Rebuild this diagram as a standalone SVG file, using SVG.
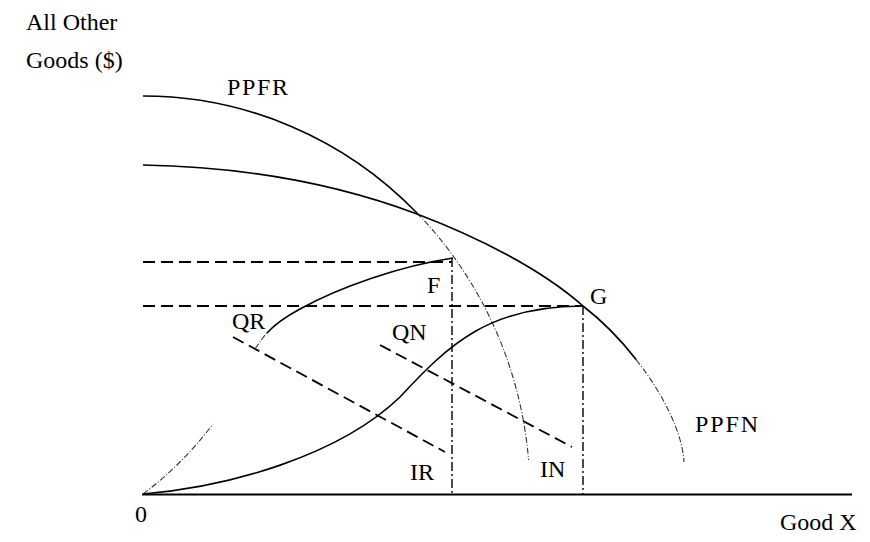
<svg xmlns="http://www.w3.org/2000/svg" width="870" height="542" viewBox="0 0 870 542">
<style>
  text { font-family: "Liberation Serif", "Times New Roman", serif; font-size: 24px; fill: #000; }
  .solid { fill: none; stroke: #000; stroke-width: 1.6; }
  .faint { fill: none; stroke: #333; stroke-width: 1.1; stroke-dasharray: 6,2,1,2; }
  .dash { fill: none; stroke: #000; stroke-width: 1.8; stroke-dasharray: 12,6; }
  .dashdot { fill: none; stroke: #000; stroke-width: 1.4; stroke-dasharray: 9,3,2,3; }
  .axis { fill: none; stroke: #000; stroke-width: 2; }
</style>
<rect width="870" height="542" fill="#fff"/>
<g id="axis">
  <line class="axis" x1="142" y1="494.5" x2="852" y2="494.5"/>
  <text x="26" y="30">All Other</text>
  <text x="26" y="68">Goods ($)</text>
  <text x="135" y="522">0</text>
  <text x="780" y="530">Good X</text>
</g>
<g id="ppfr">
  <path class="solid" d="M143,96 A387,398 0 0 1 417,213"/>
  <path class="faint" d="M417,213 A387,398 0 0 1 528.6,460"/>
  <text x="227" y="95" textLength="61">PPFR</text>
</g>
<g id="ppfn">
  <path class="solid" d="M143,165 C255,167 345,187 417,214 C475,236 540,268 583,306 C602.95,321.4 621.05,340.1 636.3,359.8"/>
  <path class="faint" d="M636.3,359.8 C664.6,395.6 682.7,434.7 684,462"/>
  <text x="695" y="432" textLength="63">PPFN</text>
</g>
<g id="F">
  <text x="427" y="293">F</text>
</g>
<g id="G">
  <text x="590" y="304">G</text>
</g>
<g id="QR">
  <text x="232" y="329">QR</text>
</g>
<g id="QN">
  <text x="392" y="340">QN</text>
</g>
<g id="IR">
  <text x="410" y="480">IR</text>
</g>
<g id="IN">
  <text x="540" y="477">IN</text>
</g>
<g id="connectors">
  <line class="dash" x1="143" y1="262" x2="452" y2="262"/>
  <line class="dash" x1="143" y1="306" x2="583" y2="306"/>
  <line class="dashdot" x1="452" y1="258" x2="452" y2="494"/>
  <line class="dashdot" x1="583" y1="306" x2="583" y2="494"/>
  <line class="dash" x1="233" y1="337" x2="445" y2="452"/>
  <line class="dash" x1="380" y1="345" x2="572" y2="447"/>
  <path class="faint" d="M143,494 Q182,465 213,424"/>
  <path class="faint" d="M255,349 C260,342 263,337 267,333"/>
  <path class="solid" d="M267,333 C276,323 287,316 300,309 C340,287 400,266 453,258"/>
  <path class="solid" d="M143,494 C230,487 340,455 400,397 C450,343 490,306 583,306"/>
</g>
</svg>
